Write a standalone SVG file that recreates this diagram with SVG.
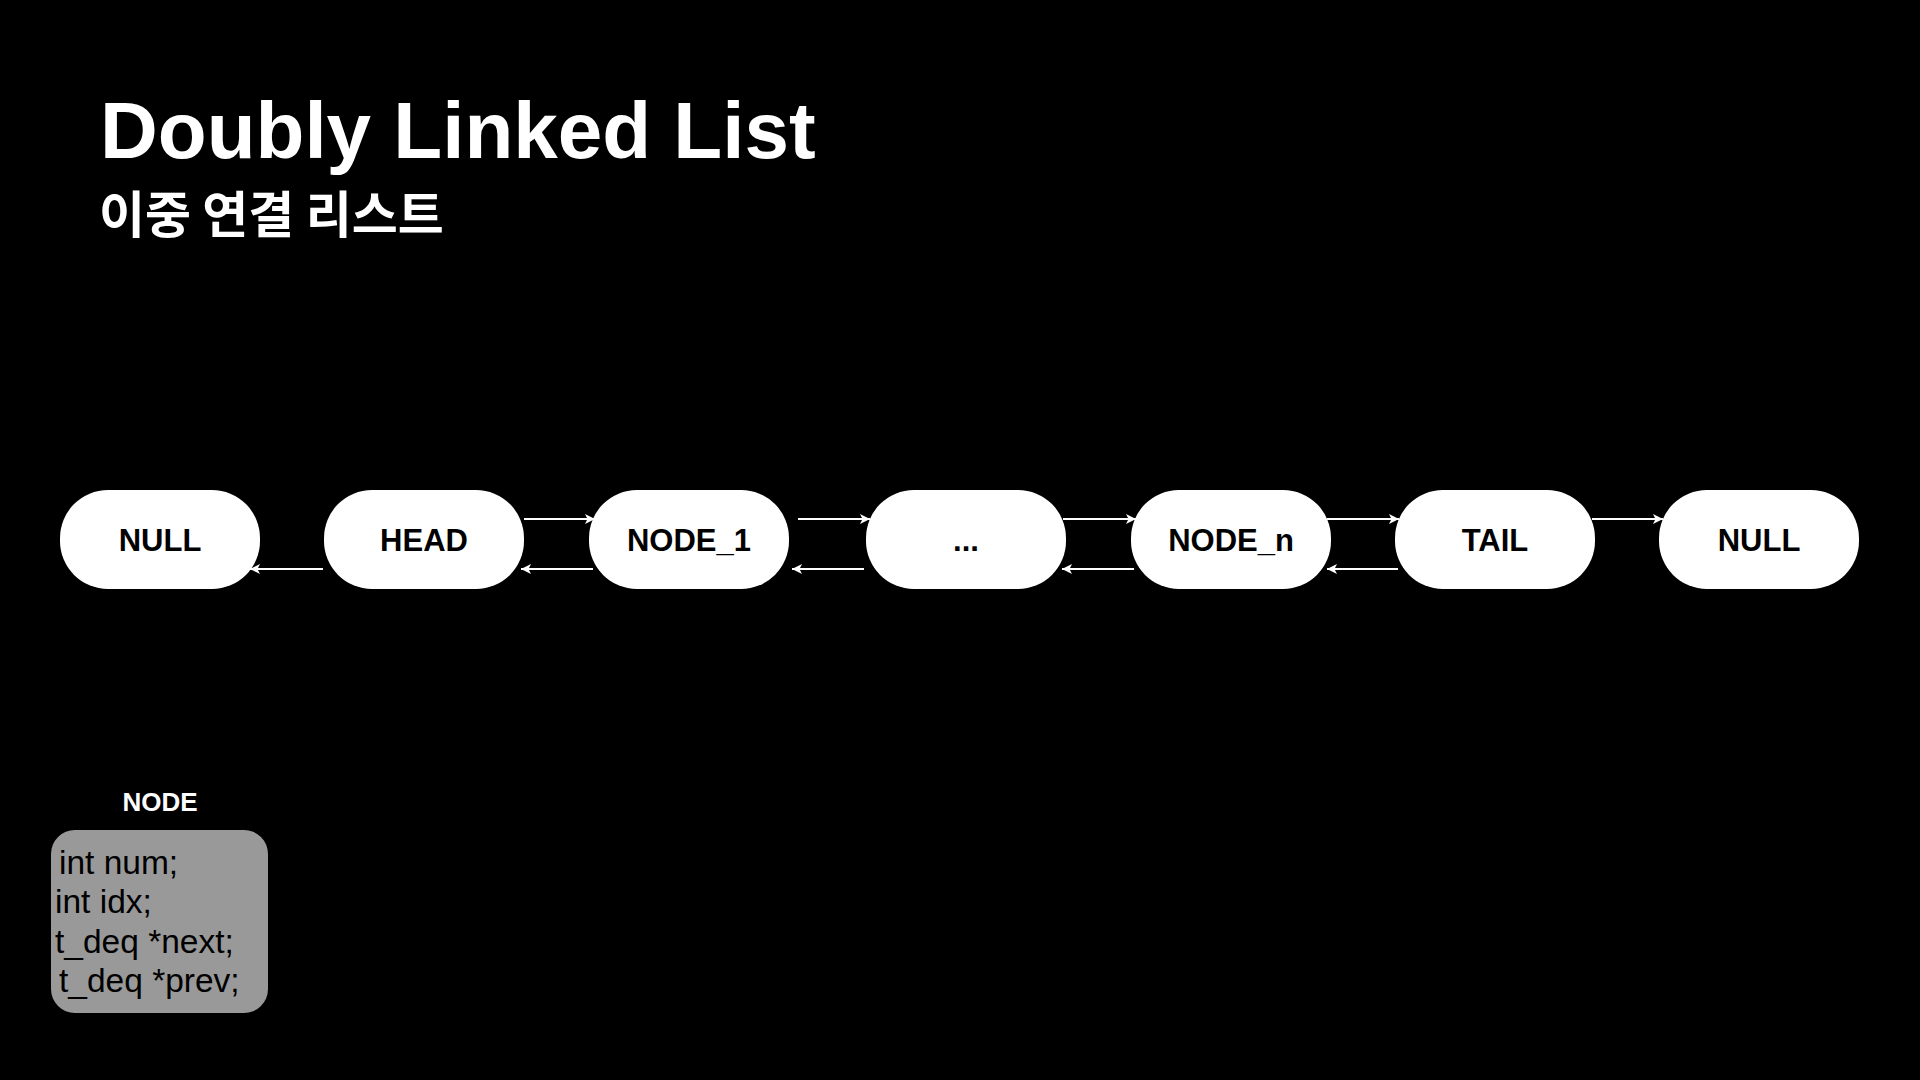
<svg xmlns="http://www.w3.org/2000/svg" width="1920" height="1080" viewBox="0 0 1920 1080">
<defs>
<style>
.bg{fill:#000}
.node rect{fill:#fff}
.lbl{font-family:"Liberation Sans",Arial,sans-serif;font-weight:bold;font-size:31px;fill:#000;text-anchor:middle;dominant-baseline:central}
.title{font-family:"Liberation Sans",Arial,sans-serif;font-weight:bold;font-size:80px;fill:#fff}
.sub{font-family:"Noto Sans CJK KR","Noto Sans",sans-serif;font-weight:bold;font-size:50px;fill:#fff}
.edge{stroke:#fff;stroke-width:2;fill:none;marker-end:url(#ah)}
.code{font-family:"Liberation Sans",Arial,sans-serif;font-size:33.5px;fill:#000}
</style>
<marker id="ah" viewBox="0 0 10 10" refX="10" refY="5" markerWidth="5" markerHeight="5" markerUnits="strokeWidth" orient="auto">
<path d="M0,0 L10,5 L0,10 L2.5,5 Z" fill="#fff"/>
</marker>
</defs>
<rect class="bg" x="0" y="0" width="1920" height="1080"/>
<g id="title">
<text class="title" x="100" y="158">Doubly Linked List</text>
<text class="sub" x="99" y="233">이중 연결 리스트</text>
</g>
<g id="node-null-left" class="node"><rect x="60" y="490" width="200" height="99" rx="48" ry="48"/><text class="lbl" x="160" y="540">NULL</text></g>
<g id="node-head" class="node"><rect x="324" y="490" width="200" height="99" rx="48" ry="48"/><text class="lbl" x="424" y="540">HEAD</text></g>
<g id="node-1" class="node"><rect x="589" y="490" width="200" height="99" rx="48" ry="48"/><text class="lbl" x="689" y="540">NODE_1</text></g>
<g id="node-dots" class="node"><rect x="866" y="490" width="200" height="99" rx="48" ry="48"/><text class="lbl" x="966" y="540">...</text></g>
<g id="node-n" class="node"><rect x="1131" y="490" width="200" height="99" rx="48" ry="48"/><text class="lbl" x="1231" y="540">NODE_n</text></g>
<g id="node-tail" class="node"><rect x="1395" y="490" width="200" height="99" rx="48" ry="48"/><text class="lbl" x="1495" y="540">TAIL</text></g>
<g id="node-null-right" class="node"><rect x="1659" y="490" width="200" height="99" rx="48" ry="48"/><text class="lbl" x="1759" y="540">NULL</text></g>
<g id="connectors">
<line class="edge" x1="524" y1="519" x2="595" y2="519"/>
<line class="edge" x1="798" y1="519" x2="870" y2="519"/>
<line class="edge" x1="1063" y1="519" x2="1136" y2="519"/>
<line class="edge" x1="1327" y1="519" x2="1399" y2="519"/>
<line class="edge" x1="1592" y1="519" x2="1663" y2="519"/>
<line class="edge" x1="323" y1="569" x2="250" y2="569"/>
<line class="edge" x1="593" y1="569" x2="521" y2="569"/>
<line class="edge" x1="864" y1="569" x2="792" y2="569"/>
<line class="edge" x1="1134" y1="569" x2="1062" y2="569"/>
<line class="edge" x1="1398" y1="569" x2="1327" y2="569"/>
</g>
<g id="node-struct">
<text x="160" y="811" font-family="Liberation Sans,Arial,sans-serif" font-weight="bold" font-size="26" fill="#fff" text-anchor="middle">NODE</text>
<rect x="51" y="830" width="217" height="183" rx="24" ry="24" fill="#999"/>
<text class="code" x="59" y="874">int num;</text>
<text class="code" x="55" y="913">int idx;</text>
<text class="code" x="55" y="953">t_deq *next;</text>
<text class="code" x="59" y="992">t_deq *prev;</text>
</g>
</svg>
